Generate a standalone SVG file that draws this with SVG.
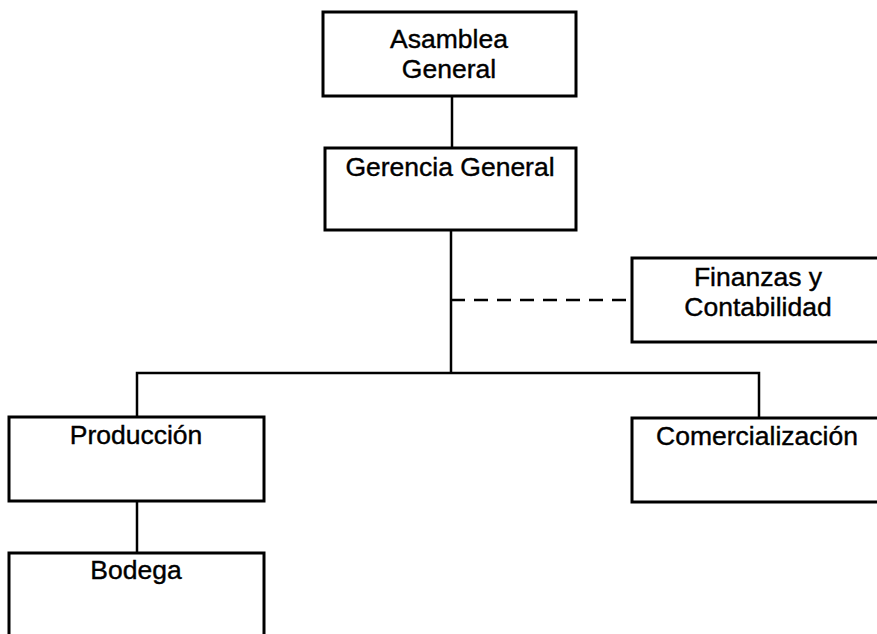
<svg xmlns="http://www.w3.org/2000/svg" width="877" height="634" viewBox="0 0 877 634">
<style>
.box{fill:#fff;stroke:#000;stroke-width:3}
.ln{fill:none;stroke:#000;stroke-width:2.5}
.dash{stroke-dasharray:14,9}
text{font-family:"Liberation Sans",Arial,sans-serif;font-size:26.5px;fill:#000;text-anchor:middle;stroke:#000;stroke-width:0.4}
</style>
<rect width="877" height="634" fill="#fff"/>
<g id="connectors">
<line class="ln" x1="452" y1="96" x2="452" y2="148"/>
<line class="ln" x1="451" y1="230" x2="451" y2="373"/>
<line class="ln dash" x1="451" y1="300" x2="632" y2="300"/>
<polyline class="ln" points="137,417 137,373 759,373 759,418"/>
<line class="ln" x1="137" y1="501" x2="137" y2="553"/>
</g>
<g id="asamblea">
<rect class="box" x="323" y="12" width="253" height="84"/>
<text x="449" y="48">Asamblea</text>
<text x="449" y="78">General</text>
</g>
<g id="gerencia">
<rect class="box" x="325" y="148" width="251" height="82"/>
<text x="450" y="176">Gerencia General</text>
</g>
<g id="finanzas">
<rect class="box" x="632" y="258" width="260" height="84"/>
<text x="758" y="286">Finanzas y</text>
<text x="758" y="316">Contabilidad</text>
</g>
<g id="produccion">
<rect class="box" x="9" y="417" width="255" height="84"/>
<text x="136" y="444">Producción</text>
</g>
<g id="comercializacion">
<rect class="box" x="632" y="418" width="260" height="84"/>
<text x="757" y="445">Comercialización</text>
</g>
<g id="bodega">
<rect class="box" x="9" y="553" width="255" height="100"/>
<text x="136" y="579">Bodega</text>
</g>
</svg>
